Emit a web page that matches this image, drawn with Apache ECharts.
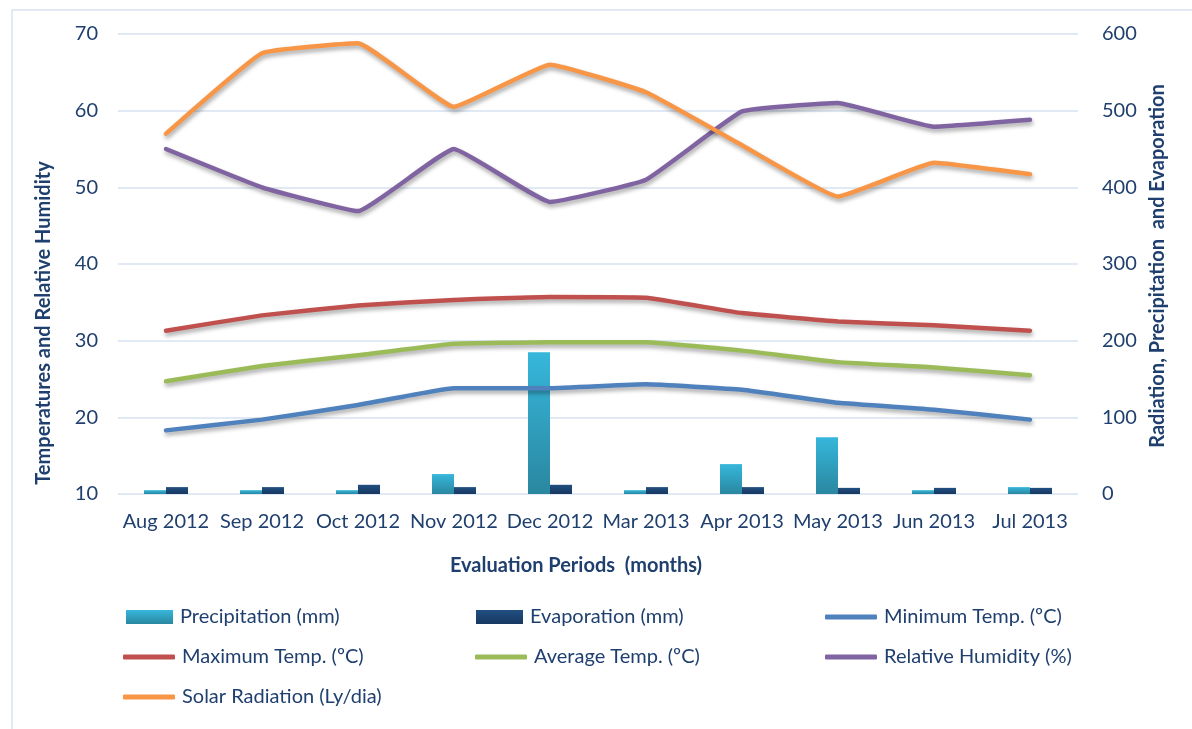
<!DOCTYPE html>
<html><head><meta charset="utf-8">
<script src="https://cdn.jsdelivr.net/npm/echarts@6/dist/echarts.min.js"></script>
<style>html,body{margin:0;padding:0;background:#fff}#c{width:1192px;height:729px}</style>
</head><body><div id="c"></div>
<script>
const categories = ['Aug 2012','Sep 2012','Oct 2012','Nov 2012','Dec 2012','Mar 2013','Apr 2013','May 2013','Jun 2013','Jul 2013'];
const leftTicks = [10,20,30,40,50,60,70];
const rightTicks = [0,100,200,300,400,500,600];
const precipitation = [5,5,5,26,185,5,39,74,5,9];
const evaporation = [9,9,12,9,12,9,9,8,8,8];
const minTemp = [18.3,19.7,21.6,23.8,23.8,24.3,23.6,21.9,21.0,19.7];
const maxTemp = [31.3,33.3,34.6,35.3,35.7,35.6,33.6,32.5,32.0,31.3];
const avgTemp = [24.7,26.7,28.1,29.6,29.8,29.8,28.7,27.2,26.5,25.5];
const humidity = [55.0,50.0,46.9,55.0,48.1,51.0,59.9,61.0,57.9,58.8];
const solar = [470,575,588,505,560,524,455,388,432,417];

const txt = '#1f3f6e';
const font = 'Lato, "Open Sans", sans-serif';
const chart = echarts.init(document.getElementById('c'));
const lineShadow = {shadowColor:'rgba(0,0,0,0.35)', shadowBlur:4, shadowOffsetY:3, shadowOffsetX:1};
function lineSeries(name, data, color, yIdx){
  return {name, type:'line', data, yAxisIndex:yIdx, symbol:'none', smooth:0.1, z:3,
    lineStyle:Object.assign({width:4.5, color, cap:'round', join:'round'}, lineShadow), itemStyle:{color}};
}
function leg(name, left, centerY, isBar){
  return {orient:'horizontal', left, top:centerY-14, padding:0, itemWidth:isBar?47:52, itemHeight:isBar?14:5,
    icon:isBar?'rect':'roundRect', itemGap:0,
    textStyle:{color:txt, fontSize:20, lineHeight:24, fontFamily:font, padding:[4,0,0,2]},
    data:[name]};
}
chart.setOption({
  animation:false,
  textStyle:{fontFamily:font},
  grid:{left:118, right:114, top:34, bottom:235, containLabel:false},
  xAxis:{type:'category', data:categories, axisLine:{show:false}, axisTick:{show:false},
    axisLabel:{color:txt, fontSize:20, margin:18, interval:0, fontFamily:font}},
  yAxis:[
    {type:'value', min:leftTicks[0], max:leftTicks[leftTicks.length-1], interval:10, position:'left',
     axisLabel:{color:txt, fontSize:20, margin:20, fontFamily:font},
     axisLine:{show:false}, axisTick:{show:false},
     splitLine:{lineStyle:{color:'#d6e2f1', width:1.5}}},
    {type:'value', min:rightTicks[0], max:rightTicks[rightTicks.length-1], interval:100, position:'right',
     axisLabel:{color:txt, fontSize:20, margin:24, fontFamily:font},
     axisLine:{show:false}, axisTick:{show:false}, splitLine:{show:false}}
  ],
  legend:[
    leg('Precipitation (mm)', 126, 617, true),
    leg('Maximum Temp. (ºC)', 123, 657, false),
    leg('Solar Radiation (Ly/dia)', 123, 697, false),
    leg('Evaporation (mm)', 476, 617, true),
    leg('Average Temp. (ºC)', 475, 657, false),
    leg('Minimum Temp. (ºC)', 825, 617, false),
    leg('Relative Humidity (%)', 825, 657, false)
  ],
  graphic:[
    {type:'rect', shape:{x:12, y:10, width:1200, height:760}, style:{fill:'none', stroke:'#d6e2f1', lineWidth:1.5}, silent:true},
    {type:'text', x:44, y:323, rotation:Math.PI/2, style:{text:'Temperatures and Relative Humidity', fill:txt, font:'bold 20px '+font, align:'center', verticalAlign:'middle'}},
    {type:'text', x:1158, y:266, rotation:Math.PI/2, style:{text:'Radiation, Precipitation  and Evaporation', fill:txt, font:'bold 20px '+font, align:'center', verticalAlign:'middle'}},
    {type:'text', x:576, y:566, style:{text:'Evaluation Periods  (months)', fill:txt, font:'bold 20px '+font, align:'center', verticalAlign:'middle'}}
  ],
  series:[
    {name:'Precipitation (mm)', type:'bar', yAxisIndex:1, data:precipitation, barWidth:22, barGap:'0%', z:2,
     itemStyle:{color:new echarts.graphic.LinearGradient(0,0,0,1,[{offset:0,color:'#36b7db'},{offset:1,color:'#2a87a0'}])}},
    {name:'Evaporation (mm)', type:'bar', yAxisIndex:1, data:evaporation, barWidth:22, z:2,
     itemStyle:{color:new echarts.graphic.LinearGradient(0,0,0,1,[{offset:0,color:'#214f80'},{offset:1,color:'#173862'}])}},
    lineSeries('Minimum Temp. (ºC)', minTemp, '#4f81bd', 0),
    lineSeries('Maximum Temp. (ºC)', maxTemp, '#c0504d', 0),
    lineSeries('Average Temp. (ºC)', avgTemp, '#9bbb59', 0),
    lineSeries('Relative Humidity (%)', humidity, '#8064a2', 0),
    lineSeries('Solar Radiation (Ly/dia)', solar, '#f79646', 1)
  ]
});
</script></body></html>
